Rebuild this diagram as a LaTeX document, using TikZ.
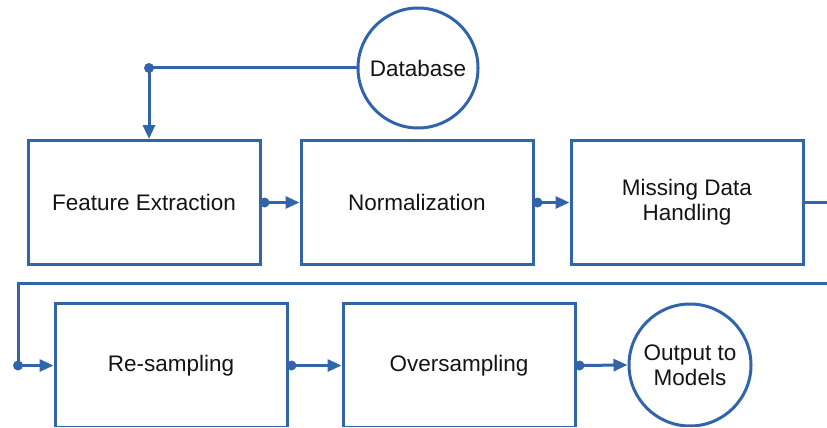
\documentclass[tikz,border=0pt]{standalone}
\usepackage{fontspec}
\setmainfont{Liberation Sans}
\usetikzlibrary{arrows.meta}
\definecolor{flowblue}{RGB}{50,100,170}
\definecolor{txt}{RGB}{20,20,20}
\tikzset{
  stepbox/.style={draw=flowblue, line width=3pt, minimum width=232pt, minimum height=124pt, align=center, text=txt, font=\fontsize{22.5}{25}\selectfont},
  roundbox/.style={draw=flowblue, line width=3pt, circle, minimum size=#1, inner sep=0pt, align=center, text=txt, font=\fontsize{22.5}{25}\selectfont},
  conn/.style={draw=flowblue, line width=3pt},
  arr/.style={conn, -{Triangle[length=14pt,width=12pt]}},
  dotc/.style={fill=flowblue, circle, inner sep=0pt, minimum size=10pt}
}
\begin{document}
\begin{tikzpicture}[x=1pt,y=-1pt]
\useasboundingbox (0,0) rectangle (827,428);
\clip (0,0) rectangle (827,426.3);
\node[roundbox=120pt] (db) at (418,68) {Database};
\node[stepbox] (fe) at (144,202.5) {Feature Extraction};
\node[stepbox] (norm) at (417,202.5) {Normalization};
\node[stepbox] (mdh) at (687,202.5) {Missing Data\\Handling};
\node[stepbox] (rs) at (171,365.5) {Re-sampling};
\node[stepbox] (os) at (459,365.5) {Oversampling};
\node[roundbox=122pt] (out) at (690,365) {Output to\\Models};
\coordinate (j1) at (149,68);
\coordinate (r1) at (830,202.5);
\coordinate (r2) at (830,283);
\coordinate (l1) at (18,283);
\coordinate (l2) at (18,365.5);
% database to feature extraction
\draw[conn] (db.west) -- (j1);
\draw[arr] (j1) -- (j1 |- fe.north);
\node[dotc] (d0) at (j1) {};
% row 1
\draw[arr] (fe.east) -- (norm.west);
\node[dotc] (d1) at ([xshift=3pt]fe.east) {};
\draw[arr] (norm.east) -- (mdh.west);
\node[dotc] (d2) at ([xshift=3pt]norm.east) {};
% wrap to row 2
\draw[conn] (mdh.east) -- (r1) -- (r2) -- (l1) -- (l2);
\draw[arr] (l2) -- (rs.west);
\node[dotc] (d3) at (l2) {};
% row 2
\draw[arr] (rs.east) -- (os.west);
\node[dotc] (d4) at ([xshift=3pt]rs.east) {};
\draw[arr] (os.east) -- (out.west);
\node[dotc] (d5) at ([xshift=3pt]os.east) {};
\end{tikzpicture}
\end{document}
